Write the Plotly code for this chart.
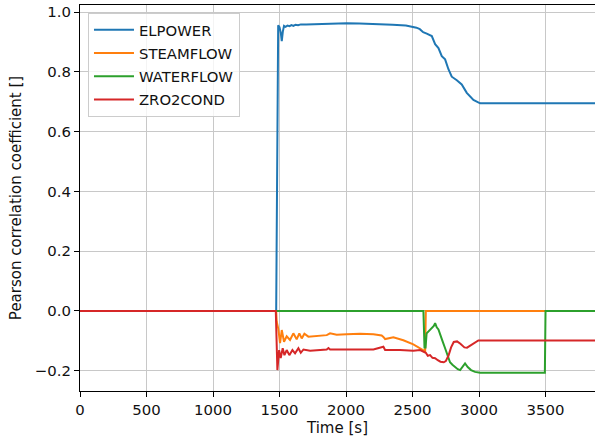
import plotly.graph_objects as go

# ---- data ----
elpower_t = [0, 1475, 1490, 1500, 1510, 1517, 1525, 1534, 1545, 1560, 1575, 1590, 1605, 1620, 1640,
             1660, 1700, 1750, 1800, 1900, 2005, 2100, 2200, 2255, 2350, 2450, 2505, 2530, 2555, 2580,
             2607, 2645, 2670, 2695, 2720, 2745, 2770, 2795, 2833, 2870, 2908, 2958, 3008, 3872]
elpower_v = [0, 0, 0.956, 0.950, 0.930, 0.903, 0.935, 0.954, 0.951, 0.955, 0.953, 0.957, 0.954, 0.958,
             0.956, 0.959, 0.959, 0.960, 0.961, 0.962, 0.963, 0.962, 0.961, 0.960, 0.958, 0.955, 0.951,
             0.948, 0.943, 0.933, 0.928, 0.920, 0.893, 0.880, 0.853, 0.842, 0.809, 0.784, 0.772, 0.758,
             0.730, 0.706, 0.695, 0.695]

steamflow_t = [0, 1475, 1479, 1491, 1504, 1517, 1534, 1554, 1579, 1604, 1629, 1649, 1667, 1687, 1717,
               1780, 1855, 1880, 1930, 2005, 2106, 2206, 2268, 2281, 2294, 2356, 2431, 2506, 2557,
               2582, 2595, 2600, 3872]
steamflow_v = [0, 0, -0.036, -0.060, -0.108, -0.064, -0.103, -0.085, -0.097, -0.075, -0.095, -0.075,
               -0.092, -0.076, -0.086, -0.083, -0.081, -0.075, -0.080, -0.078, -0.076, -0.078, -0.082,
               -0.087, -0.094, -0.088, -0.098, -0.112, -0.125, -0.133, -0.135, 0, 0]

waterflow_t = [0, 2582, 2590, 2598, 2606, 2620, 2635, 2650, 2660, 2670, 2682, 2695, 2707, 2725, 2745,
               2765, 2782, 2800, 2820, 2840, 2858, 2875, 2895, 2915, 2940, 2970, 3008, 3495, 3500, 3872]
waterflow_v = [0, 0, -0.122, -0.122, -0.075, -0.068, -0.062, -0.055, -0.050, -0.041, -0.055, -0.062,
               -0.080, -0.100, -0.125, -0.155, -0.172, -0.180, -0.188, -0.195, -0.198, -0.188, -0.176,
               -0.188, -0.198, -0.204, -0.207, -0.207, 0, 0]

zro2cond_t = [0, 1472, 1484, 1497, 1509, 1524, 1537, 1554, 1574, 1597, 1617, 1642, 1660, 1680, 1730,
              1855, 1868, 1880, 2005, 2206, 2281, 2294, 2406, 2506, 2557, 2582, 2600, 2615, 2632, 2650,
              2670, 2690, 2710, 2735, 2750, 2770, 2790, 2810, 2835, 2860, 2890, 2910, 2935, 2965, 2995, 3872]
zro2cond_v = [0, 0, -0.198, -0.131, -0.158, -0.125, -0.148, -0.131, -0.148, -0.131, -0.142, -0.125,
              -0.140, -0.129, -0.133, -0.129, -0.124, -0.129, -0.129, -0.129, -0.120, -0.131, -0.131,
              -0.133, -0.131, -0.135, -0.140, -0.150, -0.148, -0.157, -0.158, -0.165, -0.170, -0.172,
              -0.168, -0.150, -0.122, -0.104, -0.102, -0.110, -0.122, -0.123, -0.116, -0.106, -0.099, -0.099]

series_names = ["ELPOWER", "STEAMFLOW", "WATERFLOW", "ZRO2COND"]
series_t = [elpower_t, steamflow_t, waterflow_t, zro2cond_t]
series_v = [elpower_v, steamflow_v, waterflow_v, zro2cond_v]
colors = ["#1f77b4", "#ff7f0e", "#2ca02c", "#d62728"]

x_ticks = [0, 500, 1000, 1500, 2000, 2500, 3000, 3500]
y_ticks = [-0.2, 0.0, 0.2, 0.4, 0.6, 0.8, 1.0]

fig = go.Figure()
for name, t, v, c in zip(series_names, series_t, series_v, colors):
    fig.add_trace(go.Scatter(x=t, y=v, mode="lines", name=name, legendgroup=name,
                             line=dict(color=c, width=2)))

font = dict(family="DejaVu Sans", size=15, color="#111111")
tickfont = dict(family="DejaVu Sans", size=14.9, color="#111111")
legfont = dict(family="DejaVu Sans", size=14.8, color="#111111")
fig.update_layout(
    width=595, height=441,
    margin=dict(l=80, r=0, t=5, b=50),
    plot_bgcolor="white", paper_bgcolor="white",
    font=font,
    legend=dict(x=0.0155, y=0.98, xanchor="left", yanchor="top",
                bgcolor="rgba(255,255,255,0.8)", bordercolor="#cccccc", borderwidth=1,
                font=legfont, tracegroupgap=1, itemwidth=40),
    showlegend=True,
)
fig.update_xaxes(range=[0, 3872], tickvals=x_ticks, ticktext=[str(v) for v in x_ticks],
                 tickfont=tickfont,
                 showgrid=True, gridcolor="#c8c8c8", gridwidth=1, zeroline=False,
                 showline=True, linecolor="black", linewidth=1, mirror=True,
                 ticks="outside", ticklen=5, tickcolor="black",
                 title=dict(text="Time [s]", standoff=4, font=font))
fig.update_yaxes(range=[-0.268, 1.024], tickvals=y_ticks, tickformat=".1f",
                 tickfont=tickfont,
                 showgrid=True, gridcolor="#c8c8c8", gridwidth=1, zeroline=False,
                 showline=True, linecolor="black", linewidth=1, mirror=False,
                 ticks="outside", ticklen=5, tickcolor="black",
                 title=dict(text="Pearson correlation coefficient []", standoff=9, font=font))

fig.write_html("out.html")
